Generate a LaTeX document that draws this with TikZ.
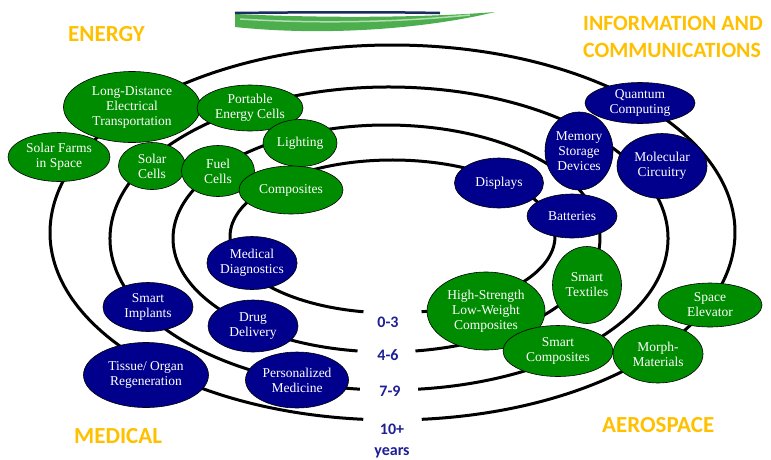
\documentclass[tikz,border=0pt]{standalone}
\usepackage{fontspec}
\setmainfont{Liberation Serif}
\newfontfamily\calfont{Carlito}
\usetikzlibrary{shapes.geometric}
\definecolor{blobgreen}{RGB}{0,140,0}
\definecolor{blobblue}{RGB}{0,0,140}
\definecolor{yearblue}{RGB}{30,30,150}
\definecolor{sectorgold}{RGB}{255,192,0}
\definecolor{swooshblue}{RGB}{25,45,95}
\tikzset{
  blob/.style={ellipse, draw=black, line width=0.6pt, text=white, align=center,
    inner sep=0pt, font=\fontsize{13.5}{15}\selectfont},
  greenblob/.style={blob, fill=blobgreen},
  blueblob/.style={blob, fill=blobblue},
  ring/.style={line width=3pt, black},
  yearlbl/.style={text=yearblue, align=center, font=\calfont\bfseries\fontsize{16}{21}\selectfont},
  sector/.style={text=sectorgold, anchor=west, inner sep=0pt,
    font=\calfont\bfseries\fontsize{23}{27}\selectfont},
  widesector/.style={sector, font=\calfont\bfseries\fontsize{21.8}{27}\selectfont}
}
\begin{document}
\begin{tikzpicture}[x=1pt,y=-1pt]
  \useasboundingbox (0,0) rectangle (771,459);
  \clip (0,0) rectangle (771,459);
  % swoosh
  \fill[blobgreen!70] (235,14) -- (235,27) .. controls (320,36) and (420,30) .. (495,12)
    .. controls (420,18) and (320,18) .. (235,14);
  \draw[white!70!blobgreen, line width=1.5pt] (240,19) .. controls (320,24) and (400,22) .. (470,15);
  \draw[swooshblue, line width=2.5pt] (235,13) .. controls (320,12) and (390,12) .. (440,13);
  % rings
  \draw[ring] (392.5,236.5) ++(100.3:162.5 and 76.5)
    arc[start angle=100.3, end angle=439.7, x radius=162.5, y radius=76.5];
  \draw[ring] (386.5,238.5) ++(97.8:213.5 and 113.5)
    arc[start angle=97.8, end angle=442.2, x radius=213.5, y radius=113.5];
  \draw[ring] (389,238.5) ++(96:279 and 151.5)
    arc[start angle=96, end angle=444, x radius=279, y radius=151.5];
  \draw[ring] (392.5,232.5) ++(94.9:342.5 and 187.5)
    arc[start angle=94.9, end angle=445.1, x radius=342.5, y radius=187.5];
  % years
  \node[yearlbl] (y03) at (388,322) {0-3};
  \node[yearlbl] (y46) at (388,355) {4-6};
  \node[yearlbl] (y79) at (390,391) {7-9};
  \node[yearlbl] (y10) at (392,441) {10+\\years};
  % sectors
  \node[sector] (energy) at (68,34) {ENERGY};
  \node[widesector] (info) at (583,23) {INFORMATION AND};
  \node[widesector] (comm) at (583,50) {COMMUNICATIONS};
  \node[sector] (medical) at (74,436) {MEDICAL};
  \node[sector] (aero) at (602,425) {AEROSPACE};
  % energy
  \node[greenblob, minimum width=102, minimum height=49] (farms) at (59,157) {Solar Farms\\in Space};
  \node[greenblob, minimum width=137, minimum height=71] (longdist) at (132,107) {Long-Distance\\Electrical\\Transportation};
  \node[greenblob, minimum width=106, minimum height=46] (portable) at (250,108) {Portable\\Energy Cells};
  \node[greenblob, minimum width=74, minimum height=47] (lighting) at (300,143) {Lighting};
  \node[greenblob, minimum width=67, minimum height=47] (solar) at (152,166) {Solar\\Cells};
  \node[greenblob, minimum width=73, minimum height=51] (fuel) at (218,171) {Fuel\\Cells};
  \node[greenblob, minimum width=104, minimum height=48] (compo) at (291,190) {Composites};
  % information
  \node[blueblob, minimum width=110, minimum height=41] (quantum) at (640,103) {Quantum\\Computing};
  \node[blueblob, minimum width=68, minimum height=78] (memory) at (579,151) {Memory\\Storage\\Devices};
  \node[blueblob, minimum width=90, minimum height=65] (molec) at (662,166) {Molecular\\Circuitry};
  \node[blueblob, minimum width=89, minimum height=50] (displays) at (499,183) {Displays};
  \node[blueblob, minimum width=90, minimum height=44] (batt) at (572,216) {Batteries};
  % aerospace
  \node[greenblob, minimum width=118, minimum height=78] (highstr) at (486,311) {High-Strength\\Low-Weight\\Composites};
  \node[greenblob, minimum width=69, minimum height=77] (textiles) at (587,285) {Smart\\Textiles};
  \node[greenblob, minimum width=110, minimum height=51] (smartcomp) at (558,351) {Smart\\Composites};
  \node[greenblob, minimum width=90, minimum height=58] (morph) at (658,354) {Morph-\\Materials};
  \node[greenblob, minimum width=104, minimum height=44] (elevator) at (710,305) {Space\\Elevator};
  % medical
  \node[blueblob, minimum width=87, minimum height=53] (diag) at (252,263) {Medical\\Diagnostics};
  \node[blueblob, minimum width=90, minimum height=49] (implants) at (148,307) {Smart\\Implants};
  \node[blueblob, minimum width=90, minimum height=52] (drug) at (253,326) {Drug\\Delivery};
  \node[blueblob, minimum width=125, minimum height=65] (tissue) at (146,375) {Tissue/ Organ\\Regeneration};
  \node[blueblob, minimum width=103, minimum height=56] (person) at (297,380) {Personalized\\Medicine};
\end{tikzpicture}
\end{document}
